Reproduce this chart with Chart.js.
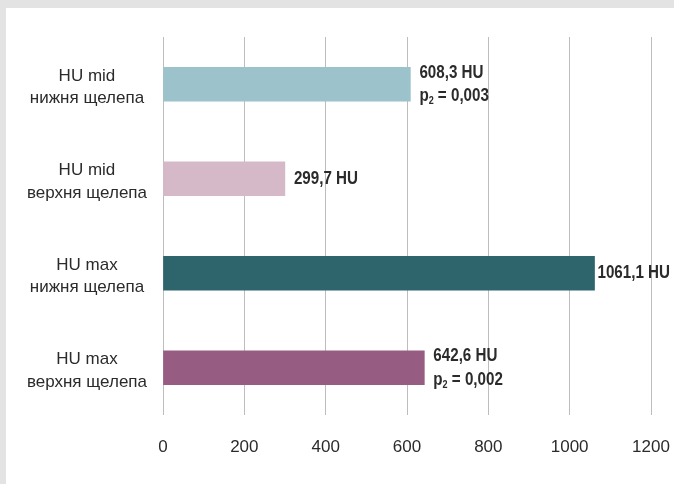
<!DOCTYPE html>
<html>
<head>
<meta charset="utf-8">
<script src="https://cdn.jsdelivr.net/npm/chart.js@4/dist/chart.umd.min.js"></script>
<style>
  html, body { margin: 0; padding: 0; background: #e3e3e3; width: 674px; height: 484px; overflow: hidden; }
  #wrap { position: absolute; left: 6px; top: 8px; width: 668px; height: 476px; background: #ffffff; }
</style>
</head>
<body>
<div id="wrap"><canvas id="c" width="668" height="476"></canvas></div>
<script>
// Density (HU) by jaw
const categories = [
  ['HU mid', 'нижня щелепа'],
  ['HU mid', 'верхня щелепа'],
  ['HU max', 'нижня щелепа'],
  ['HU max', 'верхня щелепа']
];
const values = [608.3, 299.7, 1061.1, 642.6];
const pValues = ['0,003', null, null, '0,002'];
const barColors = ['#9cc3cb', '#d5b9c9', '#2e646c', '#965c82'];
const xTicks = [0, 200, 400, 600, 800, 1000, 1200];

const TEXT = '#2b2b2b';
const LABEL_FONT = 'bold 18.5px "Liberation Sans", Arial, sans-serif';
const SUB_FONT = 'bold 11px "Liberation Sans", Arial, sans-serif';
const NARROW = 0.82; // condensed look for the value labels

function fmt(v) { return v.toFixed(1).replace('.', ',') + ' HU'; }

// draws condensed text, returns its drawn width
function narrowText(ctx, text, x, y) {
  ctx.save();
  ctx.translate(x, y);
  ctx.scale(NARROW, 1);
  ctx.fillText(text, 0, 0);
  ctx.restore();
  return ctx.measureText(text).width * NARROW;
}

// Value / p-value labels to the right of each bar
const valueLabels = {
  id: 'valueLabels',
  afterDatasetsDraw(chart) {
    const ctx = chart.ctx;
    const meta = chart.getDatasetMeta(0);
    ctx.save();
    ctx.fillStyle = TEXT;
    ctx.textBaseline = 'middle';
    ctx.textAlign = 'left';
    meta.data.forEach((bar, i) => {
      const line1 = fmt(values[i]);
      const p = pValues[i];
      ctx.font = LABEL_FONT;
      const w1 = ctx.measureText(line1).width * NARROW;
      const x = Math.min(bar.x + 9, chart.width - w1 - 4);
      if (!p) {
        narrowText(ctx, line1, x, bar.y);
        return;
      }
      const y1 = bar.y - 11.5, y2 = bar.y + 12;
      narrowText(ctx, line1, x, y1);
      // "p" with subscript 2, then the value
      let cx = x + narrowText(ctx, 'p', x, y2);
      ctx.font = SUB_FONT;
      cx += narrowText(ctx, '2', cx, y2 + 5);
      ctx.font = LABEL_FONT;
      narrowText(ctx, ' = ' + p, cx, y2);
    });
    ctx.restore();
  }
};

new Chart(document.getElementById('c'), {
  type: 'bar',
  data: {
    labels: categories,
    datasets: [{
      data: values,
      backgroundColor: barColors,
      borderWidth: 0,
      barThickness: 34
    }]
  },
  options: {
    indexAxis: 'y',
    responsive: false,
    animation: false,
    layout: { padding: { left: 0, right: 23, top: 29, bottom: 0 } },
    plugins: { legend: { display: false }, tooltip: { enabled: false } },
    scales: {
      x: {
        min: 0, max: 1200,
        afterBuildTicks(scale) { scale.ticks = xTicks.map(v => ({ value: v })); },
        afterFit(scale) { scale.height = 69; scale.paddingLeft = 0; scale.paddingRight = 0; },
        grid: { color: '#bdbdbd', lineWidth: 1, drawTicks: false },
        border: { display: false },
        ticks: {
          color: TEXT,
          padding: 22,
          callback: v => String(v),
          font: { family: '"Liberation Sans", Arial, sans-serif', size: 17 }
        }
      },
      y: {
        afterFit(scale) { scale.width = 157; scale.paddingTop = 0; scale.paddingBottom = 0; },
        grid: { display: false },
        border: { display: false },
        ticks: {
          color: TEXT,
          crossAlign: 'center',
          padding: 8,
          labelOffset: 3,
          font: { family: '"Liberation Sans", Arial, sans-serif', size: 17, lineHeight: 1.33 }
        }
      }
    }
  },
  plugins: [valueLabels]
});
</script>
</body>
</html>
